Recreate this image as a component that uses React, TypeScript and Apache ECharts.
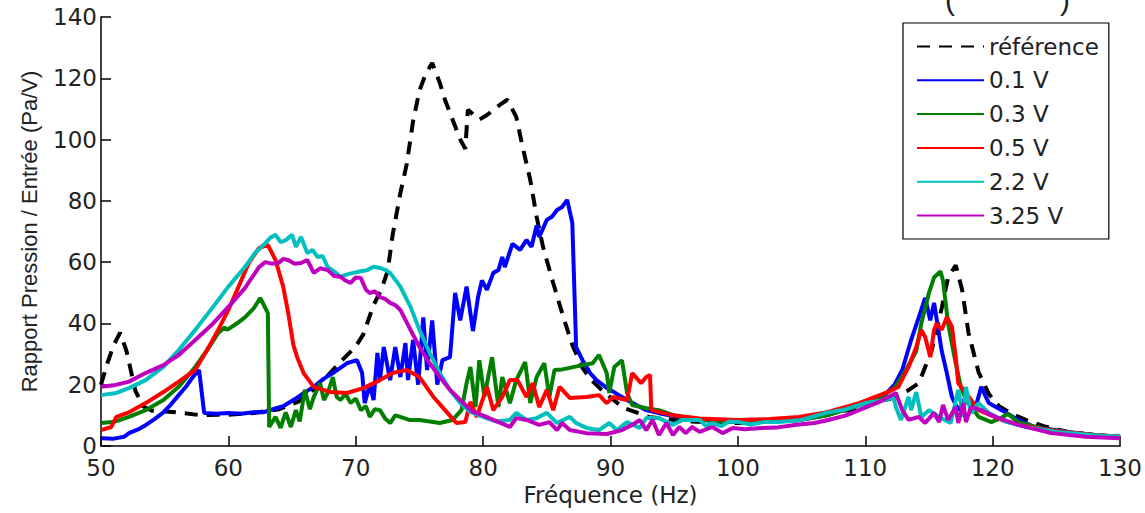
import React, { useEffect, useRef } from "react";
import * as echarts from "echarts";

const xTicks = { min: 50, max: 130, interval: 10 };
const yTicks = { min: 0, max: 140, interval: 20 };
const seriesNames = ["référence", "0.1 V", "0.3 V", "0.5 V", "2.2 V", "3.25 V"];
const seriesColors = ["#000000", "#0000ff", "#007f00", "#ff0000", "#00bfbf", "#bf00bf"];

const refData = [
  [50, 20], [50.5, 27], [51, 33], [51.5, 37], [52, 31], [52.7, 18], [53.3, 13], [54, 11.5], [55.3, 11.2], [56.4, 10.8], [57.7, 10.1],
  [60, 10.2], [62, 10.8], [64, 12], [65.5, 14.5], [66.7, 18.5], [67.8, 23], [68.8, 27.5], [70, 32.5], [70.6, 36.5], [71.4, 46],
  [72, 51], [72.5, 57], [72.9, 69], [73.5, 82.5], [74, 92], [74.5, 106], [75, 116], [75.5, 121.5], [76, 125], [76.6, 118.5],
  [77, 113], [77.4, 108.7], [78.2, 100], [78.6, 97], [78.8, 109.7], [79.7, 106.5], [80.3, 108], [81.3, 111.3], [81.9, 113],
  [82.6, 107.4], [83.1, 97.6], [83.7, 86.8], [84.2, 74.8], [84.7, 65], [85.5, 53.2], [86.3, 42], [87, 33], [87.8, 25.5],
  [88.5, 21.5], [89.5, 17.5], [91, 12.5], [93, 9.5], [96, 8], [100, 7.5], [104, 8.5], [106, 10], [107.1, 11], [108.7, 11.7],
  [110, 13], [112, 15.5], [113.3, 18], [114.2, 20.5], [115.2, 31], [116, 45], [116.5, 55], [117.1, 59], [117.6, 51], [118.1, 37],
  [118.9, 24], [119.7, 17], [120.5, 13], [121.5, 10.5], [122.6, 8.5], [124, 6.5], [125.9, 4.6], [128, 3.6], [130, 3],
];

const v01Data = [
  [50, 2.5], [51, 2.4], [51.8, 3], [52.2, 4.2], [53, 5.6], [53.5, 6.8], [54.2, 8.8], [54.9, 11], [55.5, 13.6], [56.1, 16.6],
  [56.7, 19.5], [57.2, 22.5], [57.7, 24.8], [58.1, 10.8], [59, 10.5], [60, 10.8], [61, 10.5], [62, 11], [62.7, 11], [63.5, 12],
  [64.3, 13], [65.3, 15.5], [66, 17.5], [66.7, 19.3], [67.5, 22], [68.2, 23.8], [69.3, 27], [70.1, 28], [70.5, 23.8], [70.7, 14],
  [71.1, 20], [71.4, 15], [71.7, 30.4], [71.9, 21.5], [72.2, 32.3], [72.7, 21.5], [73.1, 32.3], [73.5, 22.5], [73.9, 33.6],
  [74.1, 21.5], [74.5, 34.6], [74.9, 20], [75.3, 42], [75.6, 24.8], [76, 41], [76.4, 20], [76.8, 28], [77.4, 29], [77.8, 50],
  [78.2, 41], [78.7, 52], [79.2, 37.5], [79.6, 48.6], [79.9, 54], [80.3, 51], [80.8, 56.5], [81.2, 57.4], [81.5, 61.7],
  [81.7, 58.4], [82.3, 66], [82.9, 64], [83.4, 67.2], [83.8, 65], [84.2, 72], [84.4, 68.2], [85, 73.8], [85.4, 74.8], [85.8, 77],
  [86.2, 78], [86.6, 80.3], [87, 72.8], [87.3, 32.3], [87.8, 28], [88.4, 23.8], [88.9, 21.5], [89.7, 19], [90.5, 17], [91.3, 15],
  [92.8, 11.7], [94, 10.5], [96, 9], [98, 8.2], [100, 7.8], [102, 7.8], [104.8, 8.5], [107, 10], [108.9, 12.8], [110.5, 14.5],
  [111.6, 17], [112.3, 20], [112.9, 24.8], [113.6, 34.6], [114.2, 42], [114.7, 48.3], [115.1, 41], [115.4, 46.7], [116, 31],
  [116.4, 23.8], [116.8, 16], [117.3, 11.7], [117.9, 16], [118.6, 11.7], [119.1, 19.3], [119.7, 14], [120.7, 11.7], [122, 8.5],
  [123.3, 6.2], [125.9, 4.6], [128, 3.6], [130, 3],
];

const v03Data = [
  [50, 7.5], [50.9, 7.8], [51.5, 8.5], [52.2, 9.5], [53.5, 11.7], [54.9, 15], [56.1, 19.3], [57.4, 25.8], [58.5, 32.3],
  [59.2, 36.9], [59.7, 38.7], [59.9, 37.9], [60.6, 39.8], [61.3, 42], [62, 45], [62.5, 48.3], [63.1, 43.4], [63.2, 6.2],
  [63.7, 9.5], [64.1, 5.9], [64.5, 11], [64.9, 6.2], [65.3, 11.7], [65.6, 8], [66, 18.3], [66.4, 12], [66.7, 16], [67.2, 20.5],
  [67.5, 15], [67.8, 17.3], [68.2, 22.5], [68.5, 16], [68.8, 15], [69.2, 17], [69.6, 14], [70, 15.5], [70.4, 11.7], [70.8, 13],
  [71.1, 9.5], [71.5, 12], [71.9, 11.7], [72.3, 9], [72.7, 7.5], [73.1, 10], [73.5, 9.5], [74.2, 8.5], [75, 8.5], [75.8, 8],
  [76.6, 7.5], [77.6, 8.5], [78.3, 11.7], [78.7, 20.5], [79, 25.8], [79.4, 12.7], [79.7, 28], [80.1, 16], [80.7, 29],
  [81.2, 12.7], [81.5, 22.5], [82.1, 14], [82.6, 21.5], [83.3, 27.4], [83.7, 14], [84.2, 22.5], [84.8, 27], [85.2, 16],
  [85.6, 24.8], [86.2, 25], [86.8, 25.5], [87.8, 26.4], [88.6, 27], [89.1, 29.7], [89.7, 23.8], [89.9, 17.3], [90.3, 25.8],
  [90.9, 28], [91.3, 17.3], [91.7, 13.4], [92.8, 12.3], [93.8, 11.7], [95, 10], [96, 9], [98, 8.2], [100, 7.8], [102, 7.8],
  [104.8, 8.5], [107, 10], [109, 12.5], [111, 15.5], [112.3, 19], [113.2, 24.8], [114, 31], [114.4, 40], [115, 50], [115.4, 55],
  [115.9, 57], [116.1, 54], [116.5, 40], [117.1, 27], [117.5, 19.3], [117.9, 15], [118.9, 9.5], [119.9, 7.8], [120.6, 9],
  [121.2, 10.5], [122, 7.8], [124, 5.6], [126, 4.4], [128, 3.6], [130, 3],
];

const v05Data = [
  [50, 5.2], [50.8, 6.2], [51.2, 9.5], [52.2, 11], [53.5, 14], [54.9, 17.6], [56.1, 21], [57.4, 24.8], [58.2, 30.4],
  [59.2, 37.9], [60, 44.4], [60.8, 52], [61.6, 59.7], [62.4, 64.6], [63.1, 65.6], [63.7, 60.7], [64.3, 52], [64.7, 43.4],
  [65.1, 33], [65.4, 29], [65.9, 23.8], [66.7, 19.3], [68, 17.6], [69.3, 17.3], [70.6, 18.9], [71.9, 21.5], [72.9, 23.8],
  [74, 24.8], [75, 22.5], [76.1, 16], [77.2, 10.8], [77.9, 7.5], [78.6, 7.8], [79, 14.4], [79.5, 9.5], [80.3, 19.3], [80.8, 11.7],
  [81.5, 16], [82.1, 21.5], [82.7, 21.5], [83.4, 16], [83.9, 20.5], [84.4, 12.7], [85, 18.3], [85.5, 11.7], [86, 19.3],
  [86.8, 15.7], [88.1, 16], [89.1, 16.6], [89.7, 14], [90.2, 16], [91.3, 15], [91.7, 23.8], [92.4, 20.5], [92.8, 22.5],
  [93.1, 23.2], [93.2, 11.7], [94.9, 10], [97, 9], [100, 8.5], [102.5, 8.8], [104.8, 9.5], [107, 11], [109.5, 14], [111.6, 17.3],
  [112.6, 19.3], [113.4, 25.8], [114, 32.3], [114.4, 37.9], [114.7, 35.6], [115.1, 29], [115.4, 37.9], [115.6, 40], [116, 37.9],
  [116.4, 42], [116.8, 39], [117.1, 29], [117.3, 20.5], [117.9, 17.3], [118.9, 11.7], [120.7, 8.5], [122.5, 6.5], [125, 4.8],
  [128, 3.6], [130, 3],
];

const v22Data = [
  [50, 16.6], [51.2, 17.3], [52.2, 18.9], [53.5, 21.5], [54.9, 25.8], [56.1, 31.3], [57.4, 37.9], [58.8, 45.4], [60, 52],
  [61.3, 58.4], [62.1, 63], [62.9, 66.2], [63.3, 68], [63.7, 68.9], [64.1, 66.5], [64.5, 67.2], [65, 68.9], [65.3, 65],
  [65.7, 68.2], [66.2, 63], [66.6, 64], [67, 61.7], [67.4, 62], [67.8, 58.4], [68.3, 57], [68.8, 55.2], [69.3, 56], [69.8, 56.5],
  [70.4, 57], [70.9, 57.4], [71.4, 58.5], [71.9, 58.1], [72.3, 57.5], [72.7, 56.5], [73.5, 52], [74.3, 45.4], [75, 37.9],
  [75.8, 30.4], [76.6, 23.8], [77.4, 18.3], [78.2, 14], [79, 11.1], [80, 9.5], [81, 8], [82.1, 8.5], [82.6, 10.8], [83.4, 8.5],
  [84.2, 9.1], [85, 10.8], [85.8, 7.5], [86.8, 9.5], [87.3, 7.5], [88.1, 5.9], [89.1, 5.2], [89.9, 7.5], [90.5, 5.2], [91.3, 7.8],
  [92.3, 5.9], [92.8, 9.1], [93.8, 9.1], [94.9, 6.9], [95.6, 8.5], [96.4, 8.5], [97, 8.5], [97.5, 6.5], [98, 7.5], [98.7, 6.5],
  [99.3, 8], [100.1, 7.8], [101, 7], [102, 7.8], [103.2, 7.8], [105, 8.5], [106.9, 10.8], [108.5, 12], [110, 14], [111.6, 15],
  [112.2, 16], [112.4, 12.7], [112.8, 8.5], [113.4, 16], [113.6, 11.7], [114, 17.6], [114.4, 9.5], [115, 11.7], [115.8, 9.5],
  [116.7, 7.5], [117.3, 18.3], [117.7, 9.5], [117.9, 19.3], [118.3, 10.8], [118.9, 14], [119.7, 10.8], [121, 8], [122.5, 6.3],
  [125, 4.6], [128, 3.5], [130, 3],
];

const v325Data = [
  [50, 19.3], [51, 19.8], [52.2, 21], [53.5, 23.8], [54.9, 26.4], [56.1, 29.7], [57.4, 34.6], [58.8, 40], [60, 45.4],
  [61.3, 51.5], [62.4, 58.4], [62.9, 60], [63.4, 59.5], [63.9, 59.7], [64.3, 61], [64.7, 60.7], [65.2, 59.5], [65.7, 59.7],
  [66.2, 60.7], [66.7, 56.5], [67.2, 58], [67.8, 57.4], [68.3, 55.5], [68.8, 55.2], [69.2, 54], [69.6, 53.2], [70, 55],
  [70.4, 54.8], [70.8, 51], [71.1, 49.9], [71.5, 50.5], [71.9, 48.6], [72.3, 48], [72.7, 46.7], [73.1, 46], [73.5, 44.4],
  [74.3, 37.9], [75, 32.3], [75.8, 27], [76.6, 22.5], [77.4, 18.3], [78.2, 15], [79.2, 11.1], [79.5, 10.8], [80.8, 8.5],
  [82.1, 6.2], [82.6, 9.1], [83.4, 8.5], [84.4, 6.9], [85.2, 7.8], [85.8, 5.2], [86.2, 7.5], [86.8, 5.2], [88.1, 4.2], [89.7, 3.9],
  [90.9, 5.2], [91.7, 6.9], [92.3, 8.5], [92.8, 5.2], [93.3, 8.5], [93.8, 3.6], [94.4, 7.5], [94.9, 3.6], [95.4, 6.2], [95.9, 4.2],
  [96.4, 6.2], [97, 4.6], [98, 6.2], [98.8, 4.2], [99.6, 5.9], [100.5, 5.5], [101.9, 5.9], [103, 6], [104.6, 6.9], [106, 7.5],
  [107.1, 8.5], [108.5, 10], [109.5, 11.7], [111.1, 14.4], [111.8, 16], [112.4, 17.3], [112.9, 11.7], [113.4, 8.5], [114.2, 9.5],
  [114.7, 7.5], [115.4, 10.8], [115.8, 7.8], [116.1, 13.4], [116.5, 8.5], [117.1, 12.7], [117.3, 7.5], [117.7, 14], [117.9, 7.8],
  [118.3, 12.7], [119.1, 11.7], [120.2, 9.5], [122, 6.9], [124.6, 4.2], [127.3, 3], [130, 2.5],
];

const allData = [refData, v01Data, v03Data, v05Data, v22Data, v325Data];
const FONT_H = "'DejaVu Sans', Verdana, sans-serif";
const FONT_V = "'Liberation Sans', Arial, Helvetica, sans-serif";
const TXT = "#222222";

export default function App() {
  const ref = useRef<HTMLDivElement>(null);
  useEffect(() => {
    if (!ref.current) return;
    const chart = echarts.init(ref.current, null, { renderer: "svg" });
    chart.setOption({
      animation: false,
      backgroundColor: "#ffffff",
      textStyle: { fontFamily: FONT_H },
      grid: { left: 101, right: 23, top: 17, bottom: 67, containLabel: false },
      xAxis: {
        type: "value",
        min: xTicks.min,
        max: xTicks.max,
        interval: xTicks.interval,
        name: "Fréquence (Hz)",
        nameLocation: "middle",
        nameGap: 37,
        nameTextStyle: { fontSize: 23, color: TXT, fontFamily: FONT_H },
        axisLine: { show: true, lineStyle: { color: "#000", width: 1.5 } },
        axisTick: { show: true, inside: true, length: 10, lineStyle: { color: "#000", width: 1.5 } },
        axisLabel: { fontSize: 23, color: TXT, margin: 13, lineHeight: 17, fontFamily: FONT_H },
        splitLine: { show: false },
      },
      yAxis: {
        type: "value",
        min: yTicks.min,
        max: yTicks.max,
        interval: yTicks.interval,
        name: "Rapport Pression / Entrée (Pa/V)",
        nameLocation: "middle",
        nameGap: 61,
        nameTextStyle: { fontSize: 22, color: TXT, fontFamily: FONT_V },
        axisLine: { show: true, lineStyle: { color: "#000", width: 1.5 } },
        axisTick: { show: true, inside: true, length: 10, lineStyle: { color: "#000", width: 1.5 } },
        axisLabel: { fontSize: 23, color: TXT, margin: 4, lineHeight: 15, fontFamily: FONT_H },
        splitLine: { show: false },
      },
      legend: {
        orient: "vertical",
        left: 903,
        top: 23,
        padding: [12, 10, 12, 13],
        itemWidth: 67,
        itemHeight: 14,
        itemGap: 10.8,
        borderColor: "#000",
        borderWidth: 1.2,
        backgroundColor: "#fff",
        itemStyle: { opacity: 0 },
        textStyle: { fontSize: 23, color: TXT, fontFamily: FONT_H },
        data: seriesNames,
      },
      graphic: [
        { type: "text", left: 945, top: -16, style: { text: "(", fontSize: 30, fill: TXT, fontFamily: FONT_V } },
        { type: "text", left: 1060, top: -16, style: { text: ")", fontSize: 30, fill: TXT, fontFamily: FONT_V } },
      ],
      series: seriesNames.map((name, i) => ({
        name,
        type: "line",
        data: allData[i],
        showSymbol: false,
        symbol: "none",
        color: seriesColors[i],
        lineStyle: {
          color: seriesColors[i],
          width: 4,
          type: i === 0 ? [13, 9] : "solid",
        },
        z: 2 + i,
      })),
    });
    return () => chart.dispose();
  }, []);
  return <div ref={ref} style={{ position: "fixed", left: 0, top: 0, width: 1145, height: 513 }} />;
}
